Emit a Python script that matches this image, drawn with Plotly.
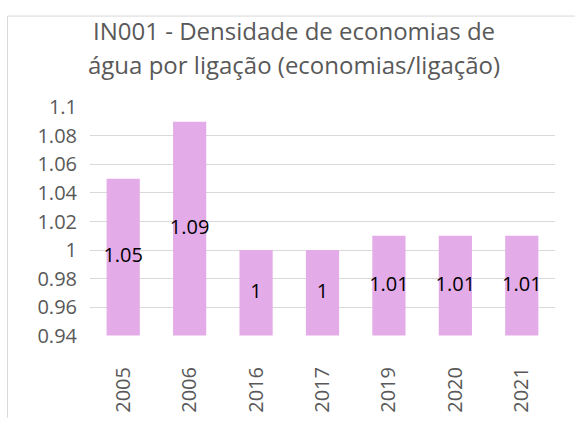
import plotly.graph_objects as go

categories = ["2005", "2006", "2016", "2017", "2019", "2020", "2021"]
values = [1.05, 1.09, 1.00, 1.00, 1.01, 1.01, 1.01]
value_labels = ["1.05", "1.09", "1", "1", "1.01", "1.01", "1.01"]
tick_vals = [0.94, 0.96, 0.98, 1.00, 1.02, 1.04, 1.06, 1.08, 1.10]
tick_text = ["0.94", "0.96", "0.98", "1", "1.02", "1.04", "1.06", "1.08", "1.1"]
title_lines = ["IN001 - Densidade de economias de", "água por ligação (economias/ligação)"]

y_min, y_max = 0.94, 1.10
W, H = 575, 425
L, R, T, B = 90, 20, 107, 80
pw, ph = W - L - R, H - T - B

def px_x(x):
    return (x - L) / pw

def px_y(y):
    return (H - B - y) / ph

BAR = "#E3ACE8"
GRAY = "#595959"
FONT = "Open Sans"

fig = go.Figure()
fig.add_trace(go.Bar(
    x=categories,
    y=[v - y_min for v in values],
    base=y_min,
    marker=dict(color=BAR, line=dict(width=0)),
    width=0.5,
    hoverinfo="skip",
))
fig.add_trace(go.Scatter(
    x=categories,
    y=[(v + y_min) / 2 for v in values],
    mode="text",
    text=value_labels,
    textfont=dict(family=FONT, size=20, color="#000000"),
    hoverinfo="skip",
))

annotations = []
for line, ypix in zip(title_lines, [27, 63]):
    annotations.append(dict(
        text=line, xref="paper", yref="paper",
        x=px_x(294), y=px_y(ypix), xanchor="center", yanchor="middle",
        showarrow=False, font=dict(family=FONT, size=24, color=GRAY),
    ))

shapes = [
    dict(type="line", xref="paper", yref="paper",
         x0=px_x(7.5), x1=px_x(7.5), y0=px_y(12.5), y1=px_y(430),
         line=dict(color="#D9D9D9", width=1)),
    dict(type="line", xref="paper", yref="paper",
         x0=px_x(7.5), x1=px_x(580), y0=px_y(12.5), y1=px_y(12.5),
         line=dict(color="#D9D9D9", width=1)),
]

fig.update_layout(
    width=W, height=H,
    margin=dict(l=L, r=R, t=T, b=B),
    paper_bgcolor="white", plot_bgcolor="white",
    showlegend=False,
    annotations=annotations,
    shapes=shapes,
    xaxis=dict(
        type="category", tickangle=-90,
        tickfont=dict(family=FONT, size=20, color=GRAY),
        showgrid=False, zeroline=False, showline=False,
        ticks="", ticklabelstandoff=26,
    ),
    yaxis=dict(
        range=[y_min - 0.0003, y_max + 0.0003],
        tickvals=tick_vals, ticktext=tick_text,
        tickfont=dict(family=FONT, size=20, color=GRAY),
        showgrid=True, gridcolor="#D9D9D9", gridwidth=1,
        zeroline=False, showline=False, ticks="",
        ticklabelstandoff=12,
    ),
)

fig.write_html(
    "out.html",
    config={"displayModeBar": False},
    post_script="document.body.style.margin='0';document.body.style.overflow='hidden';",
)
